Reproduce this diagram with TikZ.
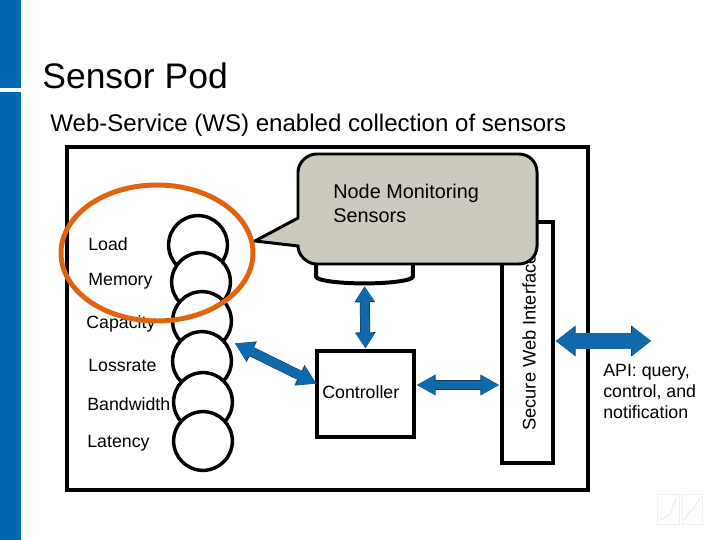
\documentclass[tikz,border=0pt]{standalone}
\usepackage{fontspec}
\usepackage{xcolor}
\setmainfont{Liberation Sans}
\usetikzlibrary{shapes,arrows.meta,positioning,calc}
\definecolor{barblue}{HTML}{0069AF}
\definecolor{arrowblue}{HTML}{0F69AC}
\definecolor{arrowedge}{HTML}{0B3C66}
\definecolor{ringorange}{HTML}{E0640F}
\definecolor{calloutgray}{HTML}{CCC9BF}
\tikzset{
  px/.style={line width=#1*0.5669pt},
  sensor/.style={circle,draw,fill=white,px=3.5,minimum size=59*0.5669pt,inner sep=0pt},
  label/.style={font=\fontsize{10.1pt}{12pt}\selectfont,inner sep=0pt},
  % shaft, head width, head length in pixels
  blockarrow/.style n args={3}{
    preaction={draw=arrowedge,line width=(#1+1)*0.5669pt,
      {Triangle[width=(#2+1.6)*0.5669pt,length=(#3+1)*0.5669pt]}-{Triangle[width=(#2+1.6)*0.5669pt,length=(#3+1)*0.5669pt]}},
    draw=arrowblue,line width=#1*0.5669pt,shorten >=0.5pt,shorten <=0.5pt,
    {Triangle[width=#2*0.5669pt,length=#3*0.5669pt]}-{Triangle[width=#2*0.5669pt,length=#3*0.5669pt]}},
}
\begin{document}
\begin{tikzpicture}[x=0.02cm,y=-0.02cm]
\useasboundingbox (0,0) rectangle (720,540);
% Side bar
\fill[barblue] (0,0) rectangle (21,88.5);
\fill[barblue] (0,92) rectangle (21,540);
% Titles
\node[anchor=west,inner sep=0pt,font=\fontsize{20.2pt}{24pt}\selectfont] (title) at (42,76) {Sensor Pod};
\node[anchor=west,inner sep=0pt,font=\fontsize{13.7pt}{16pt}\selectfont] (subtitle) at (50,125) {Web-Service (WS) enabled collection of sensors};
% Pod
\draw[px=4] (67,147) rectangle (588,490);
% Sensors
\node[sensor] (load) at (198,245) {};
\node[sensor] (memory) at (201,282) {};
\node[sensor] (capacity) at (202,321) {};
\node[sensor] (lossrate) at (202,361) {};
\node[sensor] (bandwidth) at (203,402) {};
\node[sensor] (latency) at (203,441) {};
\node[label,anchor=west] (loadtext) at (88,244) {Load};
\node[label,anchor=west] (memorytext) at (88,281.5) {Memory};
\node[label,anchor=west] (capacitytext) at (86,323.5) {Capacity};
\node[label,anchor=west] (lossratetext) at (88,365) {Lossrate};
\node[label,anchor=west] (bandwidthtext) at (87,404) {Bandwidth};
\node[label,anchor=west] (latencytext) at (87,443) {Latency};
% Repository, controller, interface
\node[cylinder,shape border rotate=90,aspect=0.16,draw,px=4,fill=white,minimum width=97*0.5669pt,minimum height=100*0.5669pt,inner sep=0pt,label] (repository) at (364.5,238) {Repository};
\node[draw,px=4,minimum width=97*0.5669pt,minimum height=86*0.5669pt,inner sep=0pt] (controller) at (365.5,394) {};
\node[label,anchor=west] (controllertext) at (322,392) {Controller};
\node[draw,px=4,minimum width=51*0.5669pt,minimum height=241*0.5669pt,inner sep=0pt] (interface) at (527.5,342.5) {};
\node[rotate=90,anchor=west,inner sep=0pt,font=\fontsize{10.4pt}{12pt}\selectfont] (interfacetext) at (529,431) {Secure Web Interface};
% Arrows
\coordinate (lossend) at (234,343);
\coordinate (apiend) at (652,341);
\coordinate (linkrow) at (414,385);
\draw[blockarrow={9}{18}{15}] (repository.south) -- (controller.north);
\draw[blockarrow={9}{20}{18}] (lossend) -- ($(controller.west)+(2,-10)$);
\draw[blockarrow={9}{18}{18}] (controller.east |- linkrow) -- (interface.west |- linkrow);
\draw[blockarrow={16}{28}{19}] (interface.east |- apiend) -- (apiend);
\node[label,align=left,anchor=north west,font=\fontsize{10.1pt}{12.1pt}\selectfont] (apitext) at (603,363.5) {API: query,\\control, and\\notification};
% Callout
\draw[px=3,fill=calloutgray] (298,218) -- (298,172) .. controls (298,162) and (308,154) .. (316,154)
  -- (519,154) .. controls (529,154) and (537,162) .. (537,172)
  -- (537,246) .. controls (537,256) and (529,264) .. (519,264)
  -- (316,264) .. controls (308,264) and (298,256) .. (298,246)
  -- (255,241) -- cycle;
\node[label,align=left,anchor=north west,font=\fontsize{11.3pt}{13.6pt}\selectfont] (callouttext) at (333,183.5) {Node Monitoring\\Sensors};
% Ring
\draw[ringorange,px=5] (157,253) ellipse [x radius=96,y radius=68];
% Thumbnail
\draw[gray!12,very thin] (657,494) rectangle (679,524);
\draw[gray!12,very thin] (682,494) rectangle (702,524);
\draw[red!14,thin] (660,520) -- (666,517) -- (670,514) -- (673,506) -- (677,498);
\draw[red!14,thin] (685,520) -- (689,512) -- (693,510) -- (697,503) -- (700,497);
\end{tikzpicture}
\end{document}
